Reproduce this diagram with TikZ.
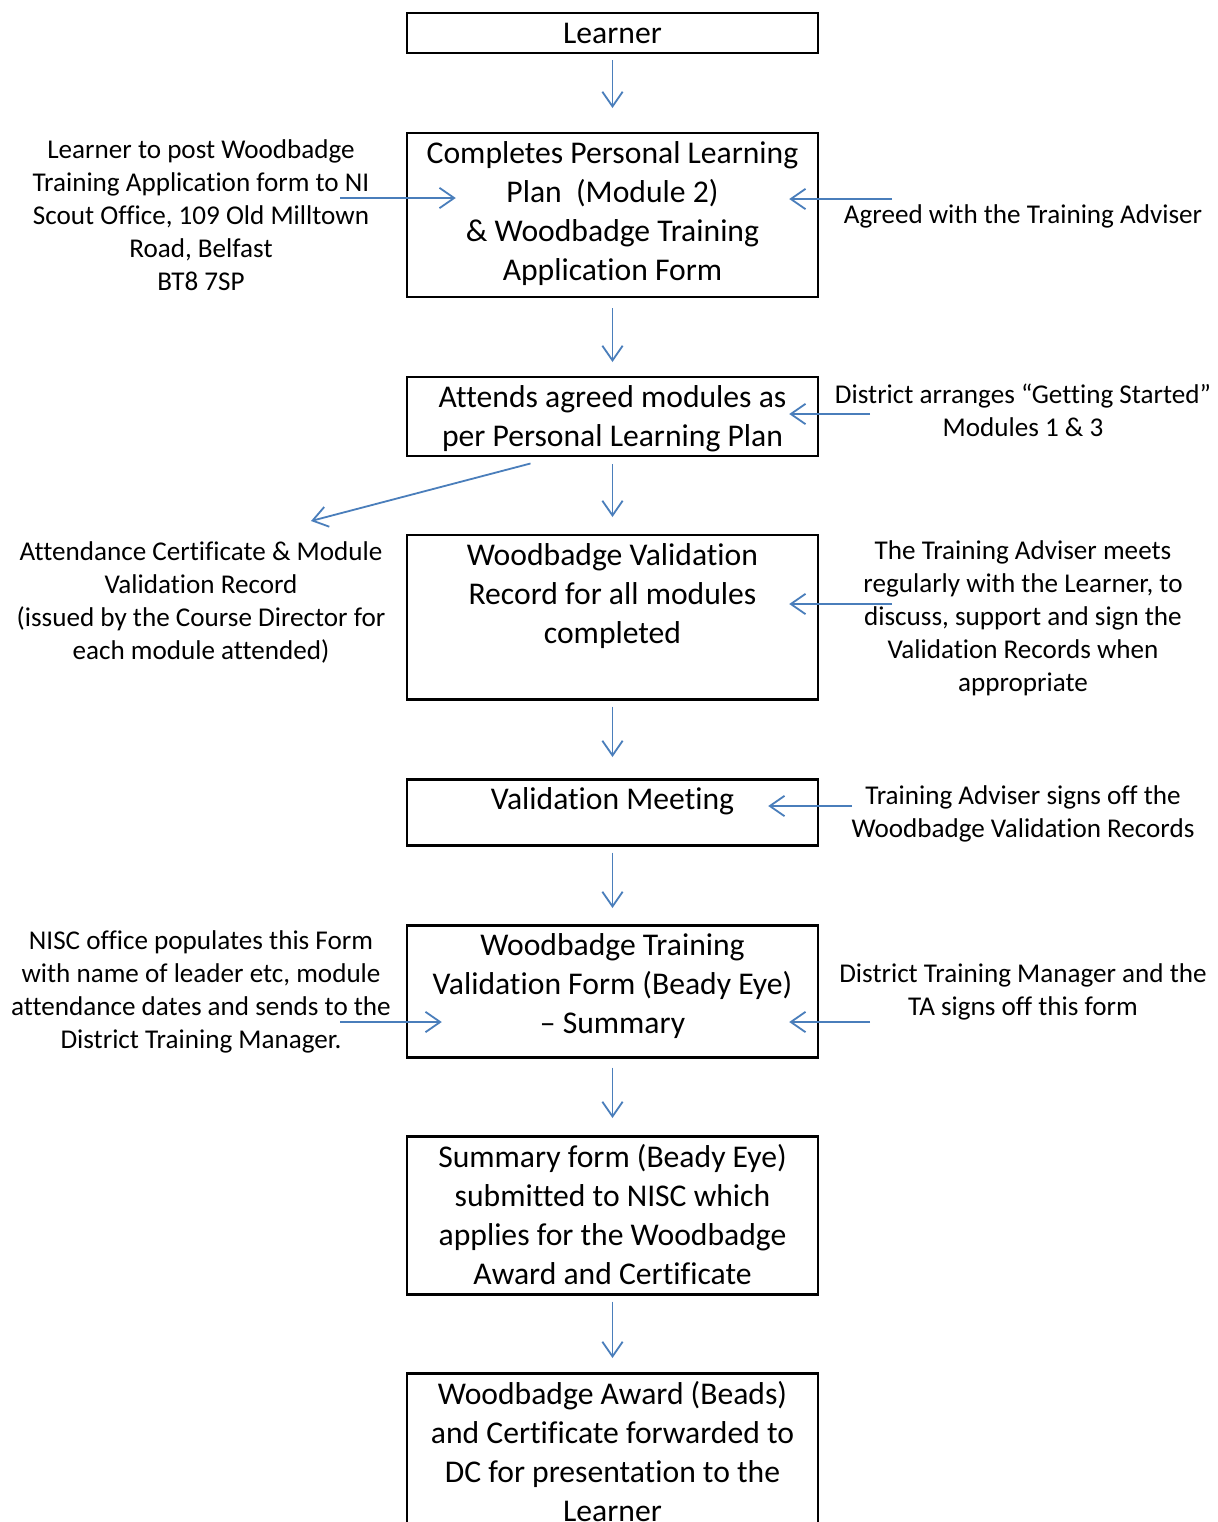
\documentclass[tikz,border=0pt]{standalone}
\usepackage{fontspec}
\setmainfont{Carlito}[Ligatures={NoCommon}]
\usepackage{tikz}
\usetikzlibrary{arrows.meta}

\definecolor{flowblue}{HTML}{4A7EBB}
\newcommand{\px}{0.4425pt}

\begin{document}
\begin{tikzpicture}[
  x=\px, y=-\px,
  box/.style={draw, line width=1.1pt, minimum width=411*\px, anchor=north, inner sep=0pt},
  btxt/.style={font=\fontsize{14}{17.3}\selectfont, align=center, anchor=north,
    inner sep=0pt, execute at begin node=\strut},
  note/.style={font=\fontsize{12}{14.6}\selectfont, align=center, inner sep=0pt},
  flow/.style={draw=flowblue, line width=0.8pt, -{Straight Barb[length=6.5pt,width=9pt]}}
]
\clip (0,0) rectangle (1218,1522);

% ── Centre column: process boxes ──
\node[box, minimum height=40*\px] (learner) at (612.5,12) {};
\node[btxt] (learnertxt) at ([yshift=-1.6pt]learner.north) {Learner};

\node[box, minimum height=164*\px] (plan) at (612.5,132) {};
\node[btxt] (plantxt) at ([yshift=-3.8pt]plan.north)
  {Completes Personal Learning\\Plan\ \ (Module 2)\\\& Woodbadge Training\\Application Form};

\node[box, minimum height=79*\px] (attend) at (612.5,376) {};
\node[btxt] (attendtxt) at ([yshift=-3.8pt]attend.north)
  {Attends agreed modules as\\per Personal Learning Plan};

\node[box, minimum height=164*\px] (valrec) at (612.5,534) {};
\node[btxt] (valrectxt) at ([yshift=-3.8pt]valrec.north)
  {Woodbadge Validation\\Record for all modules\\completed};

\node[box, minimum height=66*\px] (meeting) at (612.5,778) {};
\node[btxt] (meetingtxt) at ([yshift=-1.6pt]meeting.north) {Validation Meeting};

\node[box, minimum height=132*\px] (summ) at (612.5,924) {};
\node[btxt] (summtxt) at ([yshift=-3.8pt]summ.north)
  {Woodbadge Training\\Validation Form (Beady Eye)\\– Summary};

\node[box, minimum height=158*\px] (apply) at (612.5,1135) {};
\node[btxt] (applytxt) at ([yshift=-3.8pt]apply.north)
  {Summary form (Beady Eye)\\submitted to NISC which\\applies for the Woodbadge\\Award and Certificate};

\node[box, minimum height=200*\px] (award) at (612.5,1372) {};
\node[btxt] (awardtxt) at ([yshift=-3.8pt]award.north)
  {Woodbadge Award (Beads)\\and Certificate forwarded to\\DC for presentation to the\\Learner};

% ── Left notes ──
\node[note] (post) at (201,215)
  {Learner to post Woodbadge\\Training Application form to NI\\Scout Office, 109 Old Milltown\\Road, Belfast\\BT8 7SP};
\node[note] (cert) at (201,602)
  {Attendance Certificate \& Module\\Validation Record\\(issued by the Course Director for\\each module attended)};
\node[note] (nisc) at (201,992)
  {NISC office populates this Form\\with name of leader etc, module\\attendance dates and sends to the\\District Training Manager.};

% ── Right notes ──
\node[note] (agreed) at (1023,216) {Agreed with the Training Adviser};
\node[note] (getting) at (1023,410.5) {District arranges “Getting Started”\\Modules 1 \& 3};
\node[note] (meets) at (1023,618.5)
  {The Training Adviser meets\\regularly with the Learner, to\\discuss, support and sign the\\Validation Records when\\appropriate};
\node[note] (signs) at (1023,813.5) {Training Adviser signs off the\\Woodbadge Validation Records};
\node[note] (dtm) at (1023,992) {District Training Manager and the\\TA signs off this form};

% ── Free ends of the side arrows ──
\coordinate (postS) at (340,198);
\coordinate (agreedS) at (892,199);
\coordinate (gettingS) at (870,414);
\coordinate (meetsS) at (892,604);
\coordinate (signsS) at (852,806);
\coordinate (niscS) at (340,1022);
\coordinate (dtmS) at (870,1022);
\coordinate (attendS) at ([xshift=-82*\px, yshift=-6*\px]attend.south);
\coordinate (certT) at (311,521);

% ── Arrows down the centre ──
\draw[flow, shorten <=6*\px, shorten >=24*\px] (learner.south) -- (plan.north);
\draw[flow, shorten <=10*\px, shorten >=14*\px] (plan.south) -- (attend.north);
\draw[flow, shorten <=7*\px, shorten >=17*\px] (attend.south) -- (valrec.north);
\draw[flow, shorten <=6*\px, shorten >=21*\px] (valrec.south) -- (meeting.north);
\draw[flow, shorten <=6*\px, shorten >=16*\px] (meeting.south) -- (summ.north);
\draw[flow, shorten <=9*\px, shorten >=17*\px] (summ.south) -- (apply.north);
\draw[flow, shorten <=6*\px, shorten >=14*\px] (apply.south) -- (award.north);

% ── Side arrows ──
\draw[flow] (postS) -- ([xshift=50*\px]postS -| plan.west);
\draw[flow] (agreedS) -- ([xshift=-30*\px]agreedS -| plan.east);
\draw[flow] (gettingS) -- ([xshift=-30*\px]gettingS -| attend.east);
\draw[flow] (attendS) -- (certT);
\draw[flow] (meetsS) -- ([xshift=-30*\px]meetsS -| valrec.east);
\draw[flow] (signsS) -- ([xshift=-51*\px]signsS -| meeting.east);
\draw[flow] (niscS) -- ([xshift=36*\px]niscS -| summ.west);
\draw[flow] (dtmS) -- ([xshift=-30*\px]dtmS -| summ.east);

\end{tikzpicture}
\end{document}
